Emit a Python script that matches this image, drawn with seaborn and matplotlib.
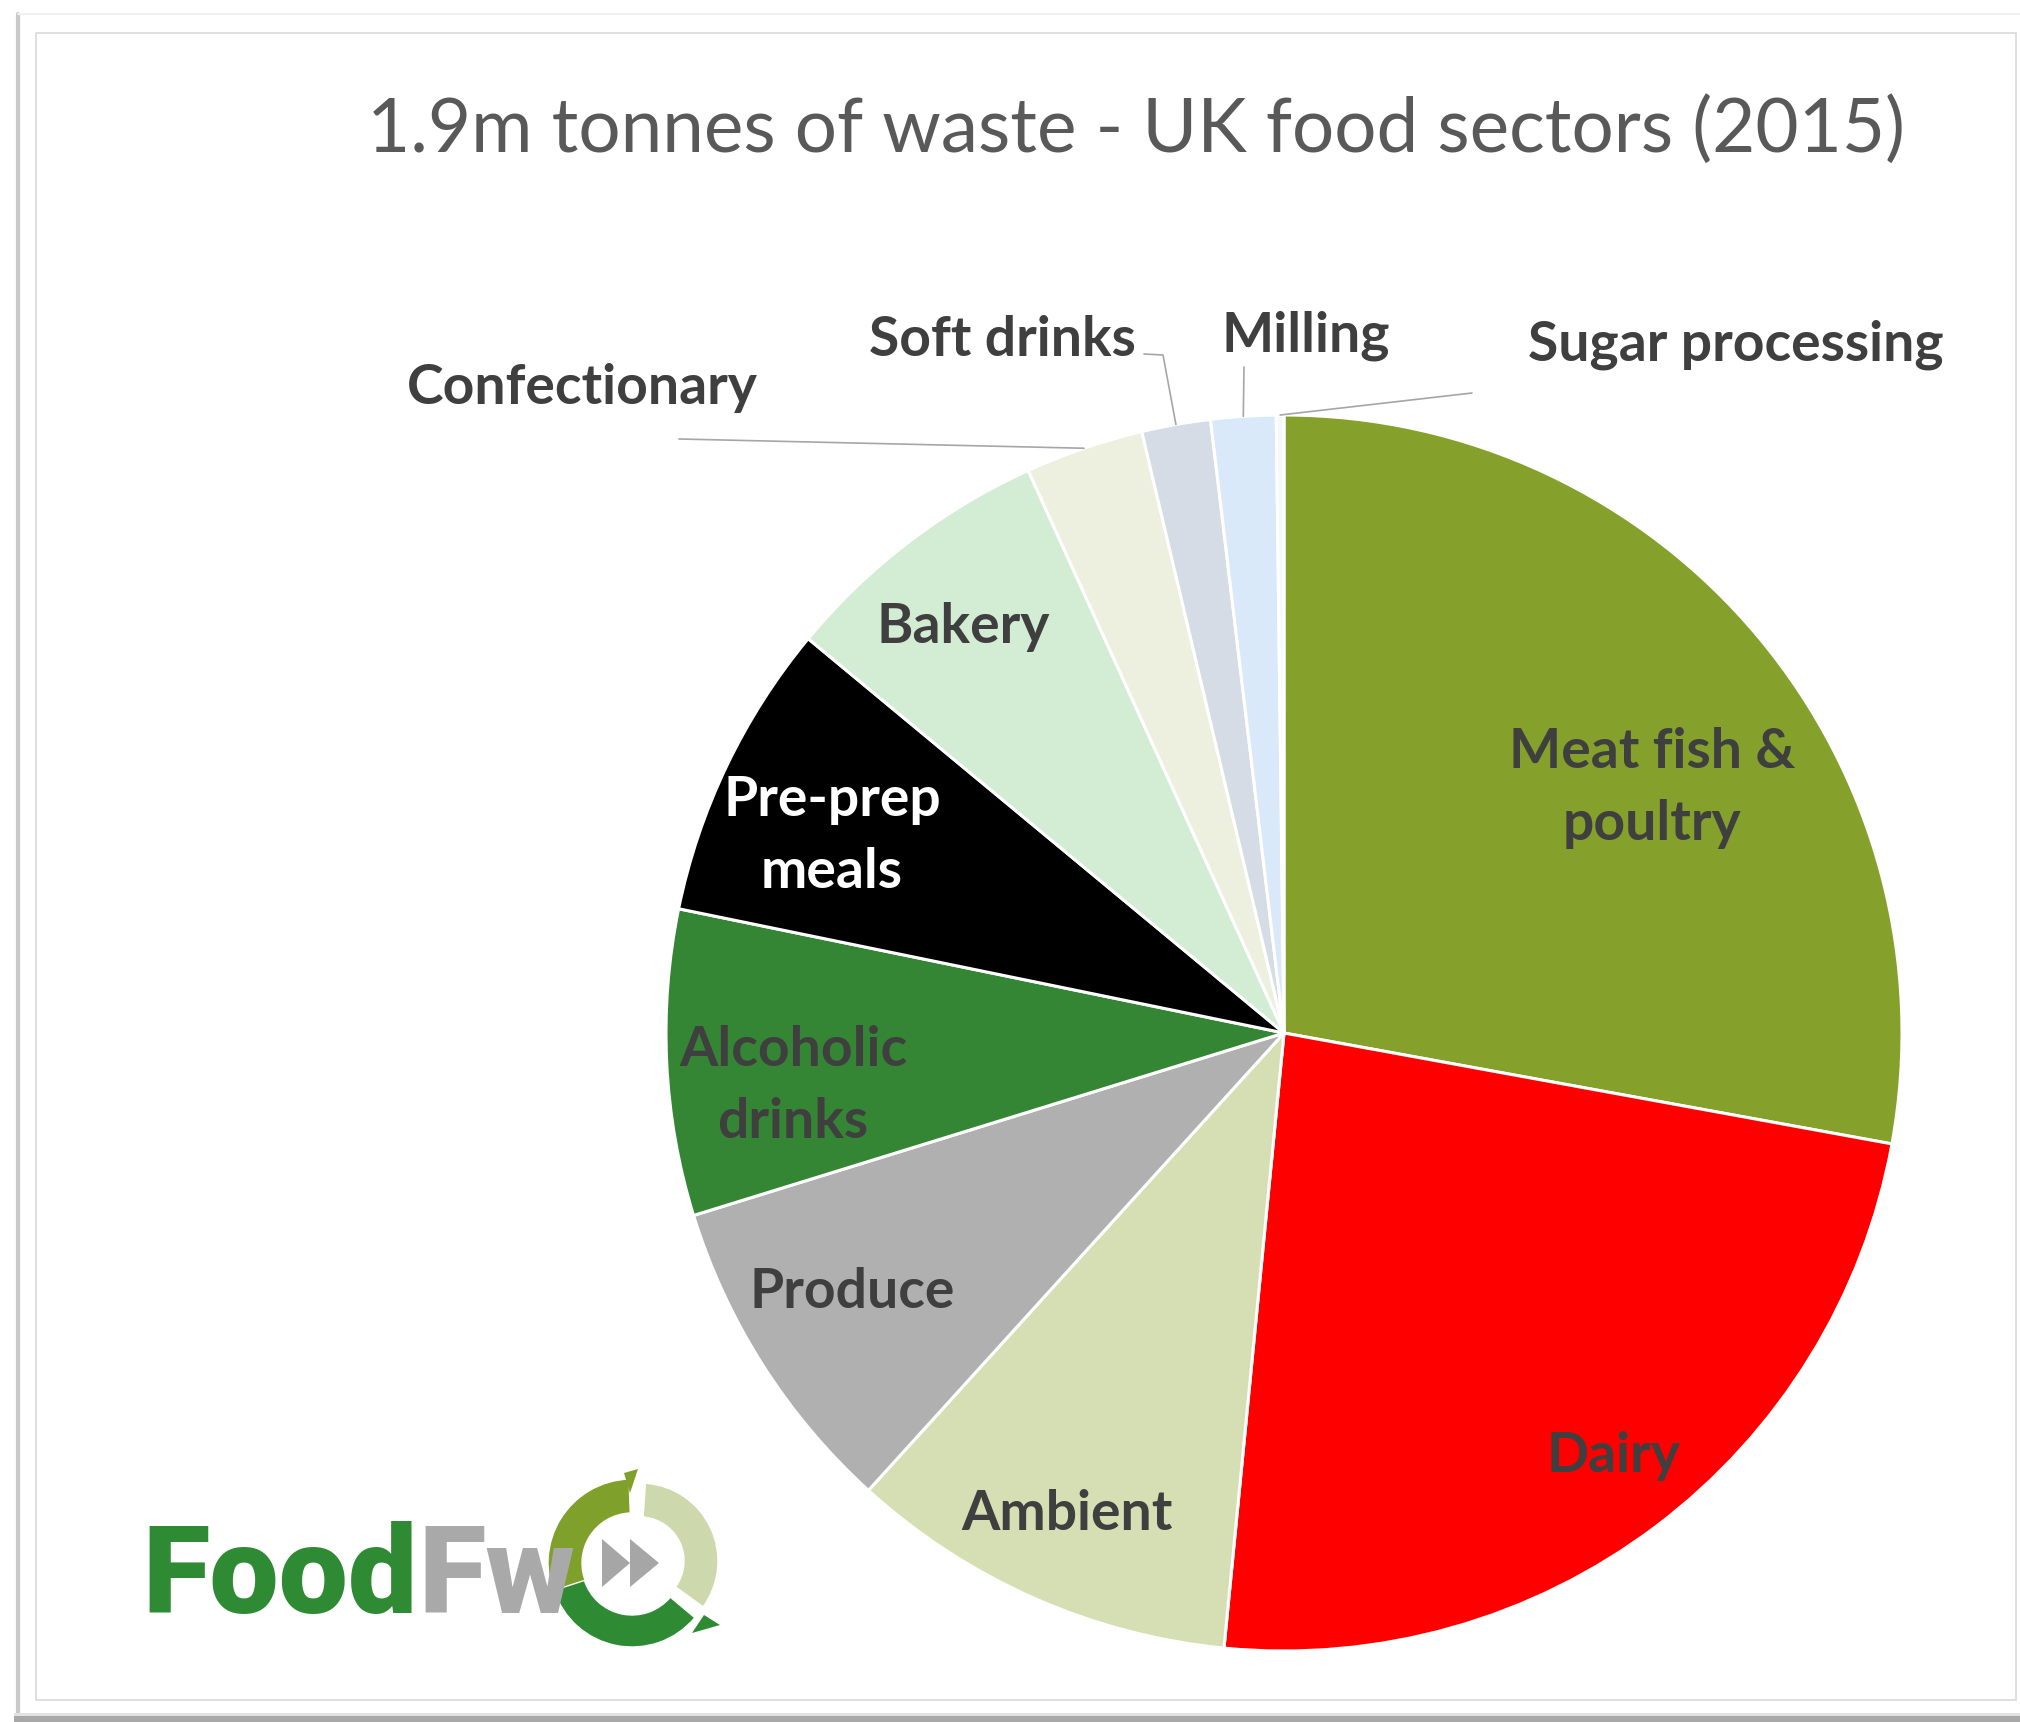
import matplotlib
matplotlib.use("Agg")
import numpy as np
import matplotlib.pyplot as plt
import seaborn as sns
from matplotlib.patches import Rectangle, Polygon, Wedge
from matplotlib.lines import Line2D

# ---------------- data ----------------
title = "1.9m tonnes of waste - UK food sectors (2015)"
sectors = ["Meat fish &\npoultry", "Dairy", "Ambient", "Produce", "Alcoholic\ndrinks",
           "Pre-prep\nmeals", "Bakery", "Confectionary", "Soft drinks", "Milling",
           "Sugar processing"]
shares = [27.9, 23.7, 10.2, 8.5, 8.0, 7.8, 7.2, 3.1, 1.8, 1.7, 0.2]
colors = ["#85A02B", "#FF0000", "#D6DFB4", "#B0B0B0", "#348634", "#000000",
          "#D2EDD3", "#EEF0DF", "#D5DCE6", "#DAE9FA", "#F4F7FB"]
label_colors = ["#3F3F3F", "#3F3F3F", "#3F3F3F", "#3F3F3F", "#3F3F3F", "#FFFFFF",
                "#3F3F3F", "#3F3F3F", "#3F3F3F", "#3F3F3F", "#3F3F3F"]
logo_parts = ["Food", "Fw"]
logo_colors = ["#2E8B34", "#A9A9A9"]

# ---------------- layout (pixels) ----------------
W, H = 2020, 1722
CX, CY, R = 1284, 1033, 618
label_pos = [(1652, 748), (1613, 1452), (1067, 1510), (852, 1288), (793, 1046),
             (832, 796), (963, 623), (582, 384), (1002, 336), (1306, 332), (1736, 341)]
LINE_GAP = 72
leaders = {7: [(679, 439)], 8: [(1144, 354), (1163, 355)], 9: [(1244, 367)], 10: [(1472, 393)]}

sns.set_theme(style="white")
plt.rcParams["font.family"] = ["Lato", "DejaVu Sans"]

fig = plt.figure(figsize=(W / 100, H / 100), dpi=100)
fig.patch.set_facecolor("white")
ax = fig.add_axes([0, 0, 1, 1])

wedges, _ = ax.pie(shares, colors=colors, startangle=-90, counterclock=True,
                   center=(CX, CY), radius=R, frame=False,
                   wedgeprops=dict(edgecolor="white", linewidth=2.2))
ax.set_xlim(0, W)
ax.set_ylim(H, 0)
ax.set_aspect("auto")
ax.axis("off")

renderer = fig.canvas.get_renderer()


def text_w(text, size, **kw):
    t = ax.text(0, 0, text, fontsize=size, **kw)
    w = t.get_window_extent(renderer).width
    t.remove()
    return w


def fit_size(text, target_w, **kw):
    return 40 * target_w / text_w(text, 40, **kw)


# ---------------- frame ----------------
ax.add_patch(Rectangle((36, 33), 2016 - 36, 1700 - 33, fill=False,
                       edgecolor="#D9D9D9", linewidth=1.2, zorder=0))
ax.add_line(Line2D([18, 18], [14, 1716], color="#C8C8C8", linewidth=3, zorder=0))
ax.add_line(Line2D([18, W], [14, 14], color="#F0F0F0", linewidth=1.5, zorder=0))
ax.add_patch(Rectangle((14, 1716), W, 8, facecolor="#A8A8A8", edgecolor="none", zorder=0))
ax.add_patch(Rectangle((14, 1713), W, 3, facecolor="#E2E2E2", edgecolor="none", zorder=0))

# ---------------- title ----------------
ts = fit_size(title, 1537, fontweight="normal")
ax.text(367, 152, title, fontsize=ts, fontweight="normal", color="#595959",
        ha="left", va="baseline")

# ---------------- labels ----------------
ls = np.mean([fit_size("Sugar processing", 417, fontweight="bold"),
              fit_size("Confectionary", 346, fontweight="bold"),
              fit_size("Soft drinks", 267, fontweight="bold"),
              fit_size("Ambient", 212, fontweight="bold")])
cap = 0.72 * ls * 100 / 72
for i, lab in enumerate(sectors):
    x, y = label_pos[i]
    for j, line in enumerate(lab.split("\n")):
        ax.text(x, y + j * LINE_GAP + cap / 2, line, fontsize=ls, fontweight="bold",
                color=label_colors[i], ha="center", va="baseline", zorder=5)

# ---------------- leader lines ----------------
for i, pts in leaders.items():
    w = wedges[i]
    th = np.deg2rad((w.theta1 + w.theta2) / 2)
    ex, ey = CX + R * np.cos(th), CY + R * np.sin(th)
    xs = [p[0] for p in pts] + [ex]
    ys = [p[1] for p in pts] + [ey]
    ax.add_line(Line2D(xs, ys, color="#A6A6A6", linewidth=1.2, zorder=4))

# ---------------- logo ----------------
LOGO_FONT = dict(family=["Roboto", "Liberation Sans", "DejaVu Sans"], fontweight="black")
lf = fit_size("".join(logo_parts), 432, **LOGO_FONT)
x0 = 142
for part, col in zip(logo_parts, logo_colors):
    t = ax.text(x0, 1613, part, fontsize=lf, color=col, ha="left", va="baseline", **LOGO_FONT)
    x0 += t.get_window_extent(renderer).width + 1

gx, gy = 632, 1563
# screen angles are mirrored (y axis points down), so use negative angles
ax.add_patch(Wedge((gx, gy), 84, -205, -92, width=34, facecolor="#7FA12B", edgecolor="white", linewidth=1))
ax.add_patch(Wedge((gx + 8, gy - 2), 78, -86, 36, width=34, facecolor="#CDD9AC", edgecolor="white", linewidth=1))
ax.add_patch(Wedge((gx, gy + 2), 82, 40, 162, width=32, facecolor="#2E8B34", edgecolor="white", linewidth=1))
ax.add_patch(Polygon([(gx - 92, gy + 30), (gx - 70, gy + 20), (gx - 60, gy + 45)], closed=True,
                     facecolor="#2E8B34", edgecolor="none"))
ax.add_patch(Polygon([(gx + 72, gy + 52), (gx + 88, gy + 62), (gx + 60, gy + 70)], closed=True,
                     facecolor="#2E8B34", edgecolor="none"))
ax.add_patch(Polygon([(gx - 8, gy - 90), (gx + 6, gy - 94), (gx - 2, gy - 70)], closed=True,
                     facecolor="#7FA12B", edgecolor="none"))
ax.add_patch(Polygon([(gx - 30, gy - 24), (gx - 30, gy + 24), (gx - 2, gy)], closed=True,
                     facecolor="#A6A6A6", edgecolor="none"))
ax.add_patch(Polygon([(gx - 2, gy - 24), (gx - 2, gy + 24), (gx + 27, gy)], closed=True,
                     facecolor="#A6A6A6", edgecolor="none"))

fig.savefig("out.png", dpi=100, facecolor="white")
